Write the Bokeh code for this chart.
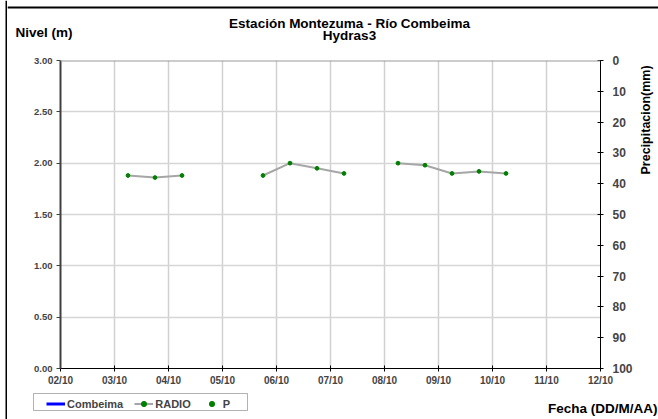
from datetime import timedelta
import math
import pandas as pd
from bokeh.plotting import figure
from bokeh.layouts import column, row
from bokeh.models import (Range1d, LinearAxis, FixedTicker, DatetimeTickFormatter,
                          PrintfTickFormatter, Legend, LegendItem, BoxAnnotation, Span)
from bokeh.core.properties import value
from bokeh.embed import file_html
from bokeh.resources import INLINE

# ---------------- data ----------------
titulo_1 = "Estación Montezuma - Río Combeima"
titulo_2 = "Hydras3"
eje_izq = "Nivel (m)"
eje_der = "Precipitacion(mm)"
eje_x = "Fecha (DD/M/AA)"

fecha_ticks = ["2011-10-02", "2011-10-03", "2011-10-04", "2011-10-05", "2011-10-06",
               "2011-10-07", "2011-10-08", "2011-10-09", "2011-10-10", "2011-10-11",
               "2011-10-12"]
nivel_ticks = [0.0, 0.5, 1.0, 1.5, 2.0, 2.5, 3.0]
precip_ticks = [0, 10, 20, 30, 40, 50, 60, 70, 80, 90, 100]

radio_fecha = ["2011-10-03 06:00", "2011-10-03 18:00", "2011-10-04 06:00",
               "2011-10-05 18:00", "2011-10-06 06:00", "2011-10-06 18:00", "2011-10-07 06:00",
               "2011-10-08 06:00", "2011-10-08 18:00", "2011-10-09 06:00", "2011-10-09 18:00",
               "2011-10-10 06:00"]
radio_nivel = [1.88, 1.86, 1.88,
               1.88, 2.00, 1.95, 1.90,
               2.00, 1.98, 1.90, 1.92, 1.90]

# series shown in the legend without readings in this period
combeima_nivel = [float("nan")]
p_mm = [float("nan")]

FONT = "Liberation Sans"
GREEN = "#008000"
GRAY = "#a6a6a6"


def blank(x0, x1, y0, y1):
    """Figure whose data space equals picture pixels (y downward)."""
    f = figure(width=x1 - x0, height=y1 - y0, x_range=Range1d(x0, x1), y_range=Range1d(y1, y0),
               output_backend="svg", toolbar_location=None,
               x_axis_location=None, y_axis_location=None, min_border=0)
    f.grid.visible = False
    f.outline_line_color = None
    f.background_fill_color = "white"
    f.border_fill_color = "white"
    return f


def txt(f, s, x, y, size, align="center", angle=0.0):
    f.text(x=[x], y=[y], text=[s], text_font=value(FONT), text_font_style="bold",
           text_font_size=size, text_align=align, text_baseline="middle",
           angle=angle, text_color="black")


# ---------------- main chart ----------------
t_ticks = pd.to_datetime(fecha_ticks)
t_radio = pd.to_datetime(radio_fecha)
tick_ms = [t.timestamp() * 1000 for t in t_ticks]

p = figure(width=629, height=342, x_axis_type="datetime",
           x_range=Range1d(t_ticks[0], t_ticks[-1]),
           y_range=Range1d(nivel_ticks[0], nivel_ticks[-1]),
           output_backend="svg", toolbar_location=None,
           min_border_left=53, min_border_right=36, min_border_top=12, min_border_bottom=22)
p.outline_line_color = None
p.background_fill_color = "white"
p.border_fill_color = "white"
p.extra_y_ranges = {"precip": Range1d(start=precip_ticks[-1], end=precip_ticks[0])}

xa = p.xaxis[0]
xa.ticker = FixedTicker(ticks=tick_ms)
xa.formatter = DatetimeTickFormatter(days="%d/%m", months="%d/%m", hours="%d/%m")
xa.major_label_text_font = FONT
xa.major_label_text_font_style = "bold"
xa.major_label_text_font_size = "10px"
xa.major_label_standoff = 3
xa.major_tick_in = 3
xa.major_tick_out = 3
xa.minor_tick_line_color = None
xa.axis_line_color = "black"
xa.major_tick_line_color = "black"

ya = p.yaxis[0]
ya.ticker = FixedTicker(ticks=nivel_ticks)
ya.formatter = PrintfTickFormatter(format="%.2f")
ya.major_label_text_font = FONT
ya.major_label_text_font_style = "bold"
ya.major_label_text_font_size = "9.5px"
ya.major_label_standoff = 4
ya.major_tick_in = 0
ya.major_tick_out = 4
ya.minor_tick_line_color = None
ya.axis_line_color = "#404040"
ya.axis_line_width = 2
ya.major_tick_line_color = "#404040"

ra = LinearAxis(y_range_name="precip", ticker=FixedTicker(ticks=precip_ticks))
ra.major_label_text_font = FONT
ra.major_label_text_font_style = "bold"
ra.major_label_text_font_size = "12px"
ra.major_label_standoff = 9
ra.major_tick_in = 3
ra.major_tick_out = 3
ra.minor_tick_line_color = None
ra.axis_line_color = "black"
ra.major_tick_line_color = "black"
p.add_layout(ra, "right")

p.xgrid.ticker = FixedTicker(ticks=tick_ms)
p.xgrid.grid_line_color = "#d0d0d0"
p.xgrid.grid_line_width = 1.5
p.ygrid.ticker = FixedTicker(ticks=nivel_ticks)
p.ygrid.grid_line_color = "#d6d6d6"
p.ygrid.grid_line_width = 1.5
p.add_layout(Span(location=nivel_ticks[-1], dimension="width", line_color="#9a9a9a", line_width=2))

# break the RADIO line where readings are missing (gap longer than 12 h)
xs, ys = [], []
prev = None
for t, v in zip(t_radio, radio_nivel):
    if prev is not None and (t - prev) > timedelta(hours=12):
        xs.append(prev + timedelta(hours=1))
        ys.append(float("nan"))
    xs.append(t)
    ys.append(v)
    prev = t

p.line(x=xs, y=ys, line_color=GRAY, line_width=2)
p.scatter(x=t_radio, y=radio_nivel, marker="circle", size=3.8, fill_color=GREEN, line_color=GREEN)

# ---------------- header (titles + top border) ----------------
head = blank(7, 658, 0, 48)
head.add_layout(Span(location=7, dimension="width", line_color="black", line_width=2))
txt(head, titulo_1, 349, 23, "13.5px")
txt(head, titulo_2, 349, 35, "13.5px")
txt(head, eje_izq, 15, 32, "13.5px", align="left")

# ---------------- right strip (precipitation axis title) ----------------
strip = blank(636, 658, 48, 390)
txt(strip, eje_der, 645, 114, "12.5px", angle=math.pi / 2)

# ---------------- footer (legend + x title) ----------------
foot = blank(7, 658, 390, 419)
r_comb = foot.line(x=[float("nan")], y=combeima_nivel, line_color="#0000ff", line_width=3)
r_rl = foot.line(x=[float("nan")], y=[float("nan")], line_color=GRAY, line_width=2)
r_rm = foot.scatter(x=[float("nan")], y=[float("nan")], marker="circle", size=3.5,
                    fill_color=GREEN, line_color=GREEN)
r_p = foot.scatter(x=[float("nan")], y=p_mm, marker="circle", size=3,
                   fill_color=GREEN, line_color=GREEN)
legend = Legend(items=[LegendItem(label="Combeima", renderers=[r_comb]),
                       LegendItem(label="RADIO", renderers=[r_rl, r_rm]),
                       LegendItem(label="P", renderers=[r_p])],
                orientation="horizontal", location=(39, 9), padding=2, spacing=11,
                glyph_width=19, glyph_height=13, label_height=13, label_standoff=2,
                label_text_font=FONT, label_text_font_style="bold", label_text_font_size="11px",
                border_line_color=None, background_fill_alpha=0, margin=0)
foot.add_layout(legend)
foot.add_layout(BoxAnnotation(left=33, right=247, top=393, bottom=410,
                              fill_color=None, line_color="black", line_width=1))
txt(foot, eje_x, 657, 408, "13.5px", align="right")

# ---------------- left border ----------------
bar = blank(0, 7, 0, 419)
bar.add_layout(Span(location=6, dimension="height", line_color="black", line_width=2))

layout = row(bar, column(head, row(p, strip), foot))

open("out.html", "w").write(file_html(layout, INLINE))
